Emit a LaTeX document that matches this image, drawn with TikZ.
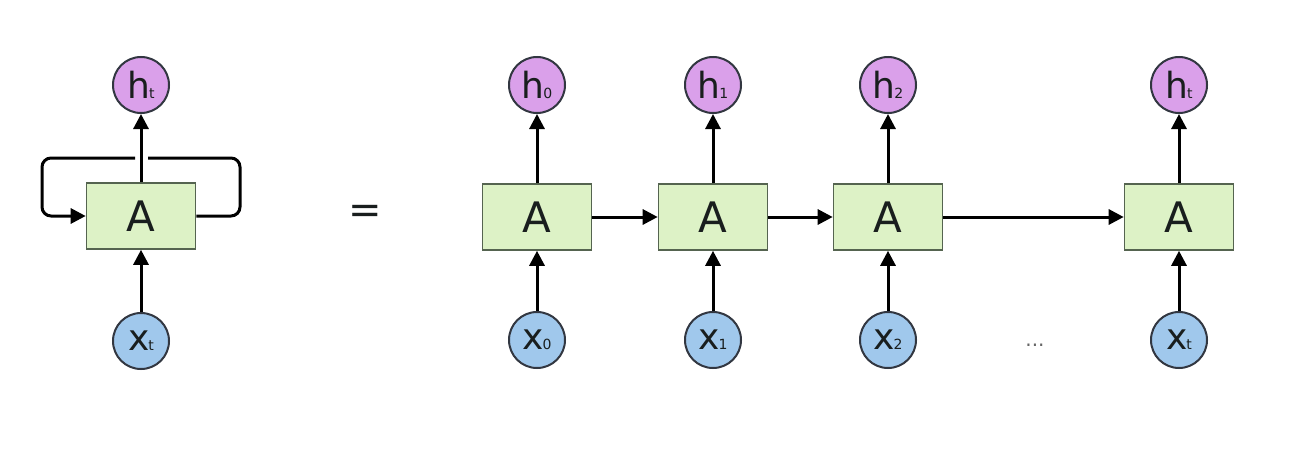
\documentclass[tikz,border=0pt]{standalone}
\usepackage{fontspec}
\setmainfont{DejaVu Sans}
\usetikzlibrary{arrows.meta}
\definecolor{boxfill}{RGB}{221,242,198}
\definecolor{boxline}{RGB}{85,100,80}
\definecolor{hfill}{RGB}{218,160,234}
\definecolor{xfill}{RGB}{160,200,236}
\definecolor{circline}{RGB}{50,55,65}
\definecolor{ink}{RGB}{25,30,30}
\tikzset{
  cell/.style={draw=boxline, fill=boxfill, line width=1.6pt, minimum width=109pt, minimum height=66pt, inner sep=0pt, font=\fontsize{42}{42}\selectfont, text=ink},
  hnode/.style={circle, draw=circline, fill=hfill, line width=2pt, minimum size=56pt, inner sep=0pt, font=\fontsize{36}{36}\selectfont, text=ink},
  xnode/.style={circle, draw=circline, fill=xfill, line width=2pt, minimum size=56pt, inner sep=0pt, font=\fontsize{36}{36}\selectfont, text=ink},
  conn/.style={draw=black, line width=3pt, -{Triangle[length=15pt,width=15pt]}},
  loopline/.style={draw=black, line width=3pt, rounded corners=9pt},
}
\newcommand{\sbs}[1]{\raisebox{0pt}{\fontsize{14}{14}\selectfont #1}}
\begin{document}
\begin{tikzpicture}[x=1pt,y=-1pt]
\useasboundingbox[fill=white] (0,0) rectangle (1300,463);
% left folded
\node[cell] (L) at (141,216) {A};
\node[hnode] (Lh) at (141,85) {h\kern-1pt\sbs{t}};
\node[xnode] (Lx) at (141,341) {x\kern-1pt\sbs{t}};
\draw[conn] (Lx) -- (L);
\draw[conn] (L) -- (Lh);
\coordinate (gapR) at (148,158);
\coordinate (gapL) at (135,158);
\draw[loopline] (L.east) -- (240,216) -- (240,158) -- (gapR);
\draw[loopline, -{Triangle[length=15pt,width=15pt]}] (gapL) -- (42,158) -- (42,216) -- (L.west);
% equals
\node[font=\fontsize{40}{40}\selectfont, text=ink] (eq) at (365,214) {=};
% unrolled
\foreach \i/\x/\s in {0/537/0,1/713/1,2/888/2,3/1179/t}{
  \node[cell] (A\i) at (\x,217) {A};
  \node[hnode] (h\i) at (\x,85) {h\kern-1pt\sbs{\s}};
  \node[xnode] (x\i) at (\x,340) {x\kern-1pt\sbs{\s}};
  \draw[conn] (x\i) -- (A\i);
  \draw[conn] (A\i) -- (h\i);
}
\draw[conn] (A0) -- (A1);
\draw[conn] (A1) -- (A2);
\draw[conn] (A2) -- (A3);
\node[font=\fontsize{20}{20}\selectfont, text=black!60] (dots) at (1035,345) {...};
\end{tikzpicture}
\end{document}
